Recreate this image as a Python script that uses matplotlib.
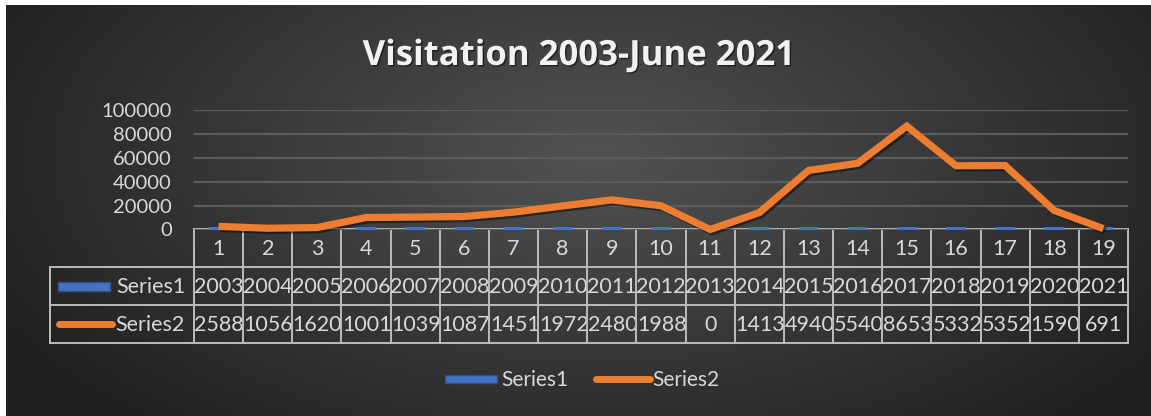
import numpy as np
import matplotlib
matplotlib.use("Agg")
import matplotlib.pyplot as plt
from matplotlib.patches import Rectangle
from matplotlib.lines import Line2D
from matplotlib import transforms
import matplotlib.patheffects as pe

# ---- data ----
categories = list(range(1, 20))
series1_years = [2003, 2004, 2005, 2006, 2007, 2008, 2009, 2010, 2011, 2012,
                 2013, 2014, 2015, 2016, 2017, 2018, 2019, 2020, 2021]
series2_visits = [2588, 1056, 1620, 10010, 10390, 10870, 14510, 19720, 24800, 19880,
                  0, 14130, 49400, 55400, 86530, 53320, 53520, 15900, 691]
yticks = [0, 20000, 40000, 60000, 80000, 100000]
title = "Visitation 2003-June 2021"
series_names = ["Series1", "Series2"]

W, H = 1151, 416
TXT = "#d9d9d9"
GRID = "#bcbcbc"
BLUE = "#4472C4"
ORANGE = "#ED7D31"
FONT = "Lato"
CELL_FS = 15.5

fig = plt.figure(figsize=(W / 100, H / 100), dpi=100, facecolor="white")

# ---- background gradient (chart area) ----
bg = fig.add_axes([6 / W, 0, (W - 6) / W, (H - 5) / H])
bg.set_zorder(0)
yy, xx = np.mgrid[0:411, 0:1145]
cx, cy = 590, 150
r = np.sqrt(((xx - cx) / 680.0) ** 2 + ((yy - cy) / 360.0) ** 2)
r = np.clip(r, 0, 1)
c0, c1 = 0x52 / 255, 0x20 / 255
img = c0 + (c1 - c0) * r ** 1.0
bg.imshow(np.dstack([img, img, img]), aspect="auto", extent=(0, 1, 0, 1))
bg.axis("off")

# ---- overlay (pixel coordinates) ----
ov = fig.add_axes([0, 0, 1, 1])
ov.set_zorder(1)
ov.set_xlim(0, W)
ov.set_ylim(H, 0)
ov.axis("off")
ov.patch.set_alpha(0)

# ---- main plot axes ----
x_left, x_right = 194, 1128
y_base, y_top = 229.5, 110
ax = fig.add_axes([x_left / W, 1 - y_base / H, (x_right - x_left) / W, (y_base - y_top) / H])
ax.set_zorder(2)
ax.patch.set_alpha(0)
ax.set_xlim(0.5, 19.5)
ax.set_ylim(0, 100000)
ax.set_yticks(yticks)
ax.set_yticklabels([str(v) for v in yticks], color=TXT, fontsize=14.5, family=FONT)
ax.tick_params(axis="y", length=0, pad=16)
ax.set_xticks([])
for s in ax.spines.values():
    s.set_visible(False)
ax.grid(axis="y", color="#5c5c5c", linewidth=1.6)
ax.set_axisbelow(True)

ax.bar(categories, series1_years, width=0.4, color=BLUE, zorder=2)
ax.plot(categories, series2_visits, color=ORANGE, linewidth=5.2, solid_joinstyle="miter",
        solid_capstyle="butt", zorder=3, clip_on=False,
        path_effects=[pe.SimpleLineShadow(offset=(1.5, -1.5), shadow_color="black", alpha=0.45),
                      pe.Normal()])

# ---- title ----
ov.text(579, 56, title, ha="center", va="center", fontsize=25, fontweight="bold",
        color="#f2f2f2", family="Open Sans",
        path_effects=[pe.withSimplePatchShadow(offset=(1, -1), shadow_rgbFace="black", alpha=0.5)])

# ---- data table ----
blend = transforms.blended_transform_factory(ax.transData, ov.transData)
t_top, r1, r2, t_bot = 229, 267, 305, 343
tab_left = 50
lw = 1.4
ov.plot([x_left, x_right], [t_top, t_top], color=GRID, lw=lw)
for yv in (r1, r2, t_bot):
    ov.plot([tab_left, x_right], [yv, yv], color=GRID, lw=lw)
ov.plot([tab_left, tab_left], [r1, t_bot], color=GRID, lw=lw)
for i in range(len(categories) + 1):
    ov.plot([0.5 + i, 0.5 + i], [t_top, t_bot], color=GRID, lw=lw, transform=blend)

def cell_text(i, ytop, ybot, s):
    xc = categories[i]
    if len(s) > 4:
        t = ov.text(xc - 0.5 + 0.02, (ytop + ybot) / 2 + 1, s, ha="left", va="center",
                    fontsize=CELL_FS, color=TXT, family=FONT, transform=blend)
    else:
        t = ov.text(xc, (ytop + ybot) / 2 + 1, s, ha="center", va="center",
                    fontsize=CELL_FS, color=TXT, family=FONT, transform=blend)
    clip = Rectangle((xc - 0.5, ytop), 0.98, ybot - ytop, transform=blend)
    t.set_clip_path(clip)
    t.set_clip_on(True)

for i, c in enumerate(categories):
    cell_text(i, t_top, r1, str(c))
    cell_text(i, r1, r2, str(series1_years[i]))
    cell_text(i, r2, t_bot, str(series2_visits[i]))

# row labels with keys
ov.add_patch(Rectangle((58, 282), 52, 9, facecolor=BLUE, edgecolor="#2f528f", lw=1))
ov.text(116, 287, series_names[0], ha="left", va="center", fontsize=CELL_FS, color=TXT, family=FONT)
ov.add_line(Line2D([59, 112], [324, 324], color=ORANGE, lw=5, solid_capstyle="round"))
ov.text(115, 325, series_names[1], ha="left", va="center", fontsize=CELL_FS, color=TXT, family=FONT)

# ---- legend ----
ov.add_patch(Rectangle((445, 375), 52, 8, facecolor=BLUE, edgecolor="#2f528f", lw=1))
ov.text(501, 380, series_names[0], ha="left", va="center", fontsize=15, color=TXT, family=FONT)
ov.add_line(Line2D([596, 650], [379, 379], color=ORANGE, lw=5, solid_capstyle="round"))
ov.text(652, 380, series_names[1], ha="left", va="center", fontsize=15, color=TXT, family=FONT)

fig.savefig("out.png", dpi=100, facecolor="white")
